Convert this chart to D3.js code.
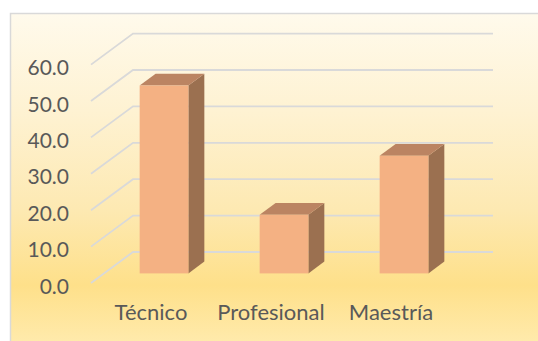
<!DOCTYPE html>
<html>
<head>
<meta charset="utf-8">
<script src="https://cdn.jsdelivr.net/npm/d3@7/dist/d3.min.js"></script>
<style>
  html, body { margin: 0; padding: 0; background: #ffffff; }
  svg { display: block; }
  text { font-family: Lato, "Open Sans", sans-serif; fill: #595959; }
</style>
</head>
<body>
<svg id="chart" width="538" height="341"></svg>
<script>
// Data
const categories = ["Técnico", "Profesional", "Maestría"];
const values = [51.6, 16.1, 32.3];
const yTicks = [0, 10, 20, 30, 40, 50, 60];

const W = 538, H = 341;
const svg = d3.select("#chart");

// Oblique depth of the 3D floor (back wall relative to front edge)
const depthX = 42, depthY = 31;
// Bars occupy this slice of the depth (0 = front edge, 1 = back wall)
const barFront = 0.31, barBack = 0.69;

// Front-plane scales
const x = d3.scaleBand().domain(categories).range([91, 451])
  .paddingInner(0.594).paddingOuter(0.297);
const y = d3.scaleLinear().domain([0, 60]).range([283, 64.6]);

// Background gradient
const defs = svg.append("defs");
const grad = defs.append("linearGradient").attr("id", "bg")
  .attr("x1", 0).attr("y1", 0).attr("x2", 0).attr("y2", 1);
[[0, "#fffaec"], [0.3, "#fef2d2"], [0.6, "#fde9b2"], [0.83, "#fee08a"], [1, "#ffeaab"]]
  .forEach(([o, c]) => grad.append("stop").attr("offset", o).attr("stop-color", c));

svg.append("rect").attr("x", 10).attr("y", 13).attr("width", W - 10).attr("height", H - 13)
  .attr("fill", "url(#bg)");
// Chart area border (top and left edges)
svg.append("path")
  .attr("d", `M10.5,${H} L10.5,13.5 L${W},13.5`)
  .attr("fill", "none").attr("stroke", "#d9d9d9").attr("stroke-width", 1.5);

// Gridlines: diagonal on the left wall, horizontal along the back wall
const xBackEnd = x.range()[1] + depthX;
const grid = svg.append("g");
yTicks.forEach(t => {
  const yf = y(t);
  grid.append("path")
    .attr("d", `M${x.range()[0]},${yf} L${x.range()[0] + depthX},${yf - depthY} L${xBackEnd},${yf - depthY}`)
    .attr("fill", "none").attr("stroke", "#d9d9d9").attr("stroke-width", 1.8);
});

// Y tick labels
svg.append("g").selectAll("text").data(yTicks).join("text")
  .attr("x", 69).attr("y", d => y(d) + 10.5)
  .attr("text-anchor", "end").attr("font-size", 21)
  .text(d => d3.format(".1f")(d));

// Bars
const ox = depthX * barFront, oy = depthY * barFront;
const dx = depthX * (barBack - barFront), dy = depthY * (barBack - barFront);
const bars = svg.append("g").selectAll("g").data(categories.map((c, i) => ({ c, v: values[i] }))).join("g");

bars.append("path").attr("fill", "#9b7050")
  .attr("d", d => {
    const x1 = x(d.c) + x.bandwidth() + ox, yb = y(0) - oy, yt = y(d.v) - oy;
    return `M${x1},${yb} L${x1 + dx},${yb - dy} L${x1 + dx},${yt - dy} L${x1},${yt} Z`;
  });
bars.append("path").attr("fill", "#bb8462")
  .attr("d", d => {
    const x0 = x(d.c) + ox, x1 = x0 + x.bandwidth(), yt = y(d.v) - oy;
    return `M${x0},${yt} L${x0 + dx},${yt - dy} L${x1 + dx},${yt - dy} L${x1},${yt} Z`;
  });
bars.append("rect").attr("fill", "#f4b183")
  .attr("x", d => x(d.c) + ox)
  .attr("y", d => y(d.v) - oy)
  .attr("width", x.bandwidth())
  .attr("height", d => y(0) - y(d.v));

// Category labels
svg.append("g").selectAll("text").data(categories).join("text")
  .attr("x", d => x(d) + x.bandwidth() / 2)
  .attr("y", 320)
  .attr("text-anchor", "middle").attr("font-size", 22)
  .text(d => d);
</script>
</body>
</html>
